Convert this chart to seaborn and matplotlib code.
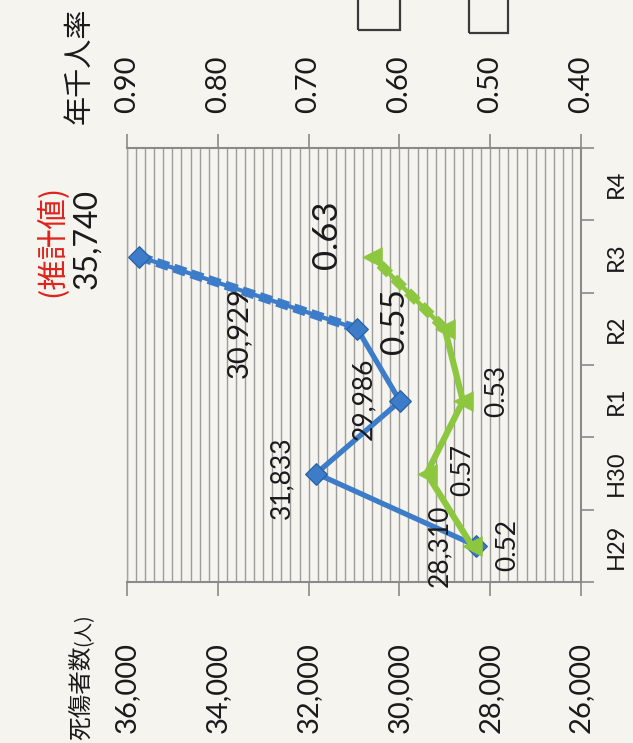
import numpy as np
import pandas as pd
import matplotlib
matplotlib.use("Agg")
import matplotlib.pyplot as plt
from matplotlib.patches import Rectangle
import seaborn as sns

# ---- data ----
categories = ["H29", "H30", "R1", "R2", "R3", "R4"]
years = ["H29", "H30", "R1", "R2", "R3"]
casualties = [28310, 31833, 29986, 30929, 35740]
rates = [0.52, 0.57, 0.53, 0.55, 0.63]
casualty_labels = ["28,310", "31,833", "29,986", "30,929", "35,740"]
rate_labels = ["0.52", "0.57", "0.53", "0.55", "0.63"]
left_ticks = [26000, 28000, 30000, 32000, 34000, 36000]
left_ticklabels = ["26,000", "28,000", "30,000", "32,000", "34,000", "36,000"]
right_ticks = [0.40, 0.50, 0.60, 0.70, 0.80, 0.90]
right_ticklabels = ["0.40", "0.50", "0.60", "0.70", "0.80", "0.90"]

sns.set_theme(style="white")
plt.rcParams["font.family"] = ["Lato", "Noto Sans CJK JP", "DejaVu Sans"]

BG = "#f5f4ef"
BLUE = "#3d7cc9"
BLUE_EDGE = "#2c64a8"
GREEN = "#8dc63f"
AXC = "#8a8a8a"

W, H = 633, 743
fig = plt.figure(figsize=(W / 100, H / 100), dpi=100, facecolor=BG)

x0, x1, ytop, ybot = 127, 581, 148, 582
ax = fig.add_axes([x0 / W, 1 - ybot / H, (x1 - x0) / W, (ybot - ytop) / H])
ax.set_facecolor(BG)

df = pd.DataFrame({"year": years, "cas": casualties, "rate": rates})
df["pos"] = [categories.index(y) for y in df["year"]]

# grid (horizontal gridlines of the original chart -> vertical here)
ax.set_xlim(36000, 26000)
ax.set_ylim(-0.5, len(categories) - 0.5)
ax.set_xticks(np.arange(26000, 36001, 200), minor=True)
ax.set_xticks(left_ticks)
ax.set_xticklabels(left_ticklabels, rotation=90, fontsize=21)
ax.grid(which="both", axis="x", color="#9c9c9c", lw=1.0)
ax.grid(which="both", axis="y", visible=False)
ax.tick_params(axis="x", which="major", direction="out", length=10, width=1.2,
               color=AXC, pad=33, bottom=True, top=False)
ax.tick_params(axis="x", which="minor", length=0)

# category axis on the right
ax.yaxis.tick_right()
ax.set_yticks(range(len(categories)))
ax.set_yticklabels(categories, rotation=90, va="center", fontsize=17)
ax.set_yticks(np.arange(-0.5, len(categories), 1.0), minor=True)
ax.tick_params(axis="y", which="major", length=0, pad=18, right=True, left=False)
ax.tick_params(axis="y", which="minor", direction="out", length=9, width=1.2,
               color=AXC, right=True, left=False)

for side in ["bottom", "right"]:
    ax.spines[side].set_color(AXC)
    ax.spines[side].set_linewidth(1.5)
ax.spines["left"].set_color("#a3a3a3")
ax.spines["left"].set_linewidth(1.0)
ax.spines["top"].set_visible(False)

# secondary axis (rate) on top
ax2 = ax.twiny()
ax2.set_xlim(0.90, 0.40)
ax2.set_xticks(right_ticks)
ax2.set_xticklabels(right_ticklabels, rotation=90, fontsize=21)
ax2.tick_params(axis="x", direction="out", length=10, width=1.2, color=AXC, pad=15,
                top=True, bottom=False)
ax2.grid(False)
for side in ["left", "right", "bottom"]:
    ax2.spines[side].set_visible(False)
ax2.spines["top"].set_color(AXC)
ax2.spines["top"].set_linewidth(1.5)

# casualties line
solid = df.iloc[:4]
est = df.iloc[3:]
sns.lineplot(data=solid, x="cas", y="pos", orient="y", sort=False, color=BLUE, lw=3.8, ax=ax)
sns.lineplot(data=est, x="cas", y="pos", orient="y", sort=False, color=BLUE, lw=3.0, ax=ax)
sns.lineplot(data=est, x="cas", y="pos", orient="y", sort=False, color=BLUE, lw=6.5,
             ax=ax, linestyle=(0, (1.4, 0.6)))
sns.scatterplot(data=df, x="cas", y="pos", marker="D", s=120, color=BLUE,
                edgecolor=BLUE_EDGE, linewidth=1, zorder=5, ax=ax)

# rate line
solid2 = df.iloc[:4]
sns.lineplot(data=solid2, x="rate", y="pos", orient="y", sort=False, color=GREEN, lw=4.5, ax=ax2)
sns.lineplot(data=est, x="rate", y="pos", orient="y", sort=False, color=GREEN, lw=3.2, ax=ax2)
sns.lineplot(data=est, x="rate", y="pos", orient="y", sort=False, color=GREEN, lw=7,
             ax=ax2, linestyle=(0, (1.4, 0.6)))
sns.scatterplot(data=df, x="rate", y="pos", marker="<", s=200, color=GREEN,
                edgecolor=GREEN, linewidth=0.5, zorder=5, ax=ax2)
ax2.set_ylim(-0.5, len(categories) - 0.5)
ax2.set_xlabel("")
ax2.set_ylabel("")
ax.set_xlabel("")
ax.set_ylabel("")

# data labels (offsets in pixels from each point)
cas_offsets = [(-37, 0), (-34, -4), (-36, 2), (-118, -4), (-52, 18)]
cas_sizes = [19, 19, 19, 21, 23]
for (lab, xv, pv, off, fs) in zip(casualty_labels, df["cas"], df["pos"], cas_offsets, cas_sizes):
    ax.annotate(lab, xy=(xv, pv), xytext=off, textcoords="offset pixels",
                rotation=90, ha="center", va="center", fontsize=fs, color="#1a1a1a")

rate_offsets = [(36, 1), (36, 4), (34, 10), (-50, 8), (-45, 22)]
rate_sizes = [19, 19, 19, 24, 25]
for (lab, xv, pv, off, fs) in zip(rate_labels, df["rate"], df["pos"], rate_offsets, rate_sizes):
    ax2.annotate(lab, xy=(xv, pv), xytext=off, textcoords="offset pixels",
                 rotation=90, ha="center", va="center", fontsize=fs, color="#1a1a1a")

# estimate note
ax.annotate("(推計値)", xy=(df["cas"].iloc[4], df["pos"].iloc[4]), xytext=(-87, 16),
            textcoords="offset pixels", rotation=90, ha="center", va="center",
            fontsize=22, color="#e0231c", family=["Noto Sans CJK JP"])

# axis titles
fig.text(80 / W, 1 - 66 / H, "年千人率", rotation=90, ha="center", va="center",
         fontsize=21, family=["Noto Sans CJK JP"], color="#1a1a1a")
fig.text(82 / W, 1 - 740 / H, "死傷者数", rotation=90, ha="center", va="bottom",
         fontsize=17, family=["Noto Sans CJK JP"], color="#1a1a1a")
fig.text(84 / W, 1 - 646 / H, "(人)", rotation=90, ha="center", va="bottom",
         fontsize=14, family=["Noto Sans CJK JP"], color="#1a1a1a")

# cut-off boxes at the top edge
for (bx, bw, bb) in [(358, 42, 30), (469, 39, 33)]:
    fig.patches.append(Rectangle((bx / W, 1 - bb / H), bw / W, (bb + 20) / H,
                                 transform=fig.transFigure, fill=False,
                                 edgecolor="#3a3a3a", lw=1.6))

for t in ax.get_xticklabels() + ax.get_yticklabels() + ax2.get_xticklabels():
    t.set_color("#1a1a1a")

fig.savefig("out.png", dpi=100, facecolor=BG)
